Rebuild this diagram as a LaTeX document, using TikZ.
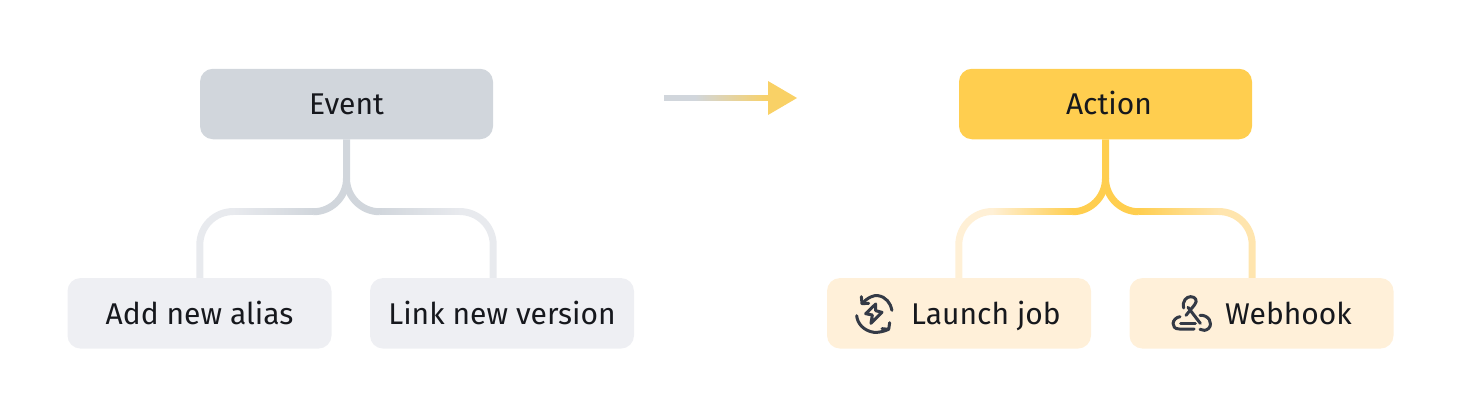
\documentclass[tikz,border=0pt]{standalone}
\usepackage{fontspec}
\setmainfont{Fira Sans}
\usetikzlibrary{calc}
\definecolor{gdark}{HTML}{D1D6DC}
\definecolor{glight}{HTML}{EEEFF3}
\definecolor{gbranch}{HTML}{E8EAEE}
\definecolor{ydark}{HTML}{FFCE4F}
\definecolor{ylight}{HTML}{FFF0D9}
\definecolor{ybranchl}{HTML}{FFF0D6}
\definecolor{ybranchr}{HTML}{FFE5AE}
\definecolor{arrowy}{HTML}{F9D166}
\definecolor{ink}{HTML}{16181D}
\definecolor{iconink}{HTML}{343A46}
\tikzset{
  lbl/.style={inner sep=0pt,text=ink,text height=21.5pt,text depth=0pt,font=\fontsize{30}{36}\selectfont},
  box/.style={lbl,rounded corners=13pt,minimum height=70.5pt},
  topbox/.style={box,minimum width=293pt},
  subbox/.style={box,minimum width=264pt},
  conn/.style={line width=7pt},
  iconline/.style={draw=iconink,line width=3pt,line cap=round,line join=round}
}
\begin{document}
\begin{tikzpicture}[x=1pt,y=-1pt]
\useasboundingbox (0,0) rectangle (1458,418);
% nodes
\node[topbox,fill=gdark] (e) at (346.5,104) {Event};
\node[subbox,fill=glight] (a) at (199.5,313.3) {Add new alias};
\node[subbox,fill=glight] (l) at (502,313.3) {Link new version};
\node[topbox,fill=ydark] (c) at (1105.5,104) {\hspace*{7pt}Action};
\node[subbox,fill=ylight] (j) at (959,313.3) {};
\node[subbox,fill=ylight] (w) at (1261.5,313.3) {};
\node[lbl] (jt) at (986,313.3) {Launch job};
\node[lbl] (wt) at (1288.5,313.3) {Webhook};
% connectors
\foreach \top/\lft/\rgt/\dk/\ltl/\ltr in {e/a/l/gdark/gbranch/gbranch,c/j/w/ydark/ybranchl/ybranchr}{
  \coordinate (tl) at ($(\top.south)+(0,39)$);
  \coordinate (L1) at ($(\top.south)+(-33.3,72.3)$);
  \coordinate (R1) at ($(\top.south)+(33.3,72.3)$);
  \coordinate (L2) at ($(\top.west)+(33.3,107.55)$);
  \coordinate (R2) at ($(\top.east)+(-33.3,107.55)$);
  \shade[left color=\ltl,right color=\dk] ($(L2)+(-0.3,-3.2)$) rectangle ($(L1)+(0.3,3.2)$);
  \shade[left color=\dk,right color=\ltr] ($(R1)+(-0.3,-3.2)$) rectangle ($(R2)+(0.3,3.2)$);
  \draw[conn,\ltl] (L2) arc (-90:-180:33.3) -- (\top.west |- \lft.north);
  \draw[conn,\ltr] (R2) arc (-90:0:33.3) -- (\top.east |- \rgt.north);
  \draw[conn,\dk] (\top.south) -- (tl) arc (0:90:33.3);
  \draw[conn,\dk] (tl) arc (180:90:33.3);
}
% arrow between the groups
\fill[gdark] (664,95.2) rectangle (695.3,100.8);
\shade[left color=gdark,right color=arrowy] (695,95.2) rectangle (768.5,100.8);
\fill[arrowy] (768,81) -- (797,98) -- (768,115) -- cycle;
% refresh / bolt icon
\begin{scope}[shift={(854,293)},x=0.3333pt,y=-0.3333pt]
  \draw[iconline] (22,11) -- (24,32) -- (44,31);
  \draw[iconline] (24,32) .. controls (42,12) and (60,6) .. (72,8) .. controls (95,11) and (110,30) .. (114,52);
  \draw[iconline] (107,89) -- (104,109) -- (84,107);
  \draw[iconline] (104,109) .. controls (88,116) and (72,119) .. (60,118) .. controls (30,114) and (10,92) .. (8,68);
  \draw[iconline] (65,33) -- (35,62) -- (55,66) -- (51,91) -- (84,58) -- (65,53) -- cycle;
\end{scope}
% webhook icon
\begin{scope}[shift={(1170,294)},x=0.3333pt,y=-0.3333pt]
  \draw[iconline] (41,42) .. controls (36,20) and (50,8) .. (62,8) .. controls (76,8) and (84,20) .. (74,32) -- (48,64);
  \draw[iconline] (30,68) .. controls (5,72) and (0,105) .. (28,105) -- (72,105);
  \draw[iconline] (32,87) -- (76,87);
  \draw[iconline] (54,40) -- (91,88);
  \draw[iconline] (90,64) .. controls (116,62) and (130,88) .. (116,103) .. controls (108,111) and (98,110) .. (90,106);
\end{scope}
\end{tikzpicture}
\end{document}
